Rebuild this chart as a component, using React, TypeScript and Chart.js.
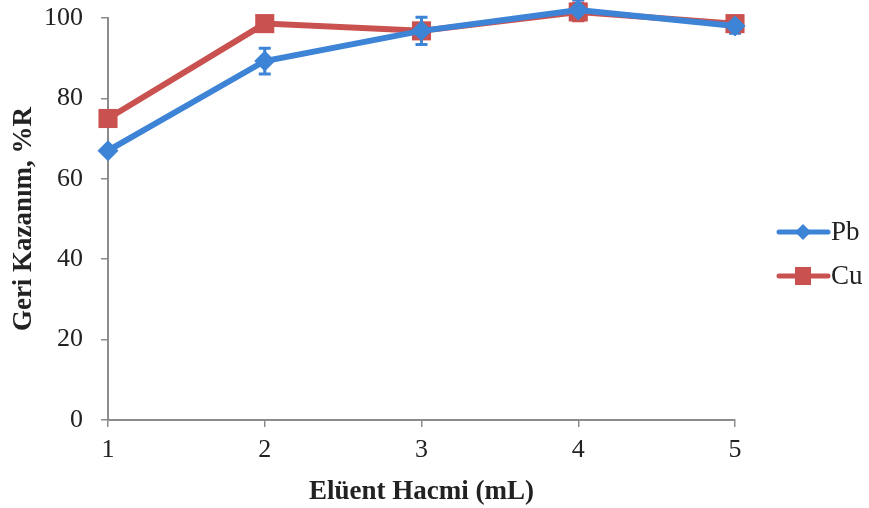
import React, { useEffect, useRef } from "react";
import { Chart, registerables } from "chart.js";

Chart.register(...registerables);

const volumes = [1, 2, 3, 4, 5];
const pbValues = [67, 89.3, 96.8, 102, 98];
const pbErrors = [0, 3.2, 3.4, 2.5, 1.8];
const cuValues = [75, 98.6, 96.8, 101.5, 98.6];
const cuErrors = [0, 0.6, 0.8, 2.2, 0.8];
const yTicks = [0, 20, 40, 60, 80, 100];

const PB_COLOR = "#3d83d6";
const CU_COLOR = "#c9514f";
const AXIS_COLOR = "#8c8c8c";
const FONT = "'Liberation Serif', 'Times New Roman', serif";

const errorBarPlugin = {
  id: "errorBars",
  beforeDatasetsDraw(chart: any) {
    const ctx = chart.ctx;
    const errs = [pbErrors, cuErrors];
    const y = chart.scales.y;
    chart.data.datasets.forEach((ds: any, di: number) => {
      const meta = chart.getDatasetMeta(di);
      ctx.save();
      ctx.strokeStyle = ds.borderColor;
      ctx.lineWidth = 3;
      meta.data.forEach((pt: any, i: number) => {
        const e = errs[di][i];
        if (!e) return;
        const v = ds.data[i].y;
        const top = y.getPixelForValue(v + e);
        const bot = y.getPixelForValue(v - e);
        ctx.beginPath();
        ctx.moveTo(pt.x, top);
        ctx.lineTo(pt.x, bot);
        ctx.moveTo(pt.x - 6, top);
        ctx.lineTo(pt.x + 6, top);
        ctx.moveTo(pt.x - 6, bot);
        ctx.lineTo(pt.x + 6, bot);
        ctx.stroke();
      });
      ctx.restore();
    });
  },
};

const legendPlugin = {
  id: "customLegend",
  afterDraw(chart: any) {
    const ctx = chart.ctx;
    const items = [
      { label: "Pb", color: PB_COLOR, style: "diamond", y: 232 },
      { label: "Cu", color: CU_COLOR, style: "square", y: 276 },
    ];
    items.forEach((it) => {
      ctx.save();
      ctx.strokeStyle = it.color;
      ctx.fillStyle = it.color;
      ctx.lineWidth = 5;
      ctx.lineCap = "round";
      ctx.beginPath();
      ctx.moveTo(779, it.y);
      ctx.lineTo(828, it.y);
      ctx.stroke();
      const cx = 803;
      if (it.style === "diamond") {
        ctx.beginPath();
        ctx.moveTo(cx, it.y - 8);
        ctx.lineTo(cx + 8, it.y);
        ctx.lineTo(cx, it.y + 8);
        ctx.lineTo(cx - 8, it.y);
        ctx.closePath();
        ctx.fill();
      } else {
        ctx.fillRect(cx - 8, it.y - 9, 16, 18);
      }
      ctx.fillStyle = "#222";
      ctx.font = `27px ${FONT}`;
      ctx.textBaseline = "middle";
      ctx.textAlign = "left";
      ctx.fillText(it.label, 831, it.y + 1);
      ctx.restore();
    });
  },
};

export default function App() {
  const ref = useRef<HTMLCanvasElement>(null);
  useEffect(() => {
    document.body.style.margin = "0";
    const chart = new Chart(ref.current!, {
      type: "line",
      data: {
        datasets: [
          {
            label: "Pb",
            data: volumes.map((x, i) => ({ x, y: pbValues[i] })),
            borderColor: PB_COLOR,
            backgroundColor: PB_COLOR,
            borderWidth: 6,
            pointStyle: "rectRot",
            pointRadius: 10.5,
            pointBorderWidth: 0,
            clip: false,
          },
          {
            label: "Cu",
            data: volumes.map((x, i) => ({ x, y: cuValues[i] })),
            borderColor: CU_COLOR,
            backgroundColor: CU_COLOR,
            borderWidth: 6,
            pointStyle: "rect",
            pointRadius: 13.5,
            pointBorderWidth: 0,
            clip: false,
          },
        ],
      },
      options: {
        animation: false,
        responsive: false,
        maintainAspectRatio: false,
        layout: { padding: { top: 18, right: 134, left: 0, bottom: 0 } },
        plugins: { legend: { display: false }, tooltip: { enabled: false } },
        scales: {
          x: {
            type: "linear",
            min: 1,
            max: 5,
            afterFit: (s: any) => {
              s.height = 88;
              s.paddingLeft = 0;
              s.paddingRight = 0;
            },
            afterBuildTicks: (s: any) => {
              s.ticks = volumes.map((v) => ({ value: v }));
            },
            grid: { drawOnChartArea: false, drawTicks: true, tickLength: 7, color: AXIS_COLOR, lineWidth: 1.5 },
            border: { color: AXIS_COLOR, width: 2 },
            ticks: { color: "#222", font: { family: FONT, size: 26 }, padding: 8 },
            title: {
              display: true,
              text: "Elüent Hacmi (mL)",
              color: "#222",
              font: { family: FONT, size: 27, weight: "bold" },
              padding: { top: 2, bottom: 0 },
            },
          },
          y: {
            min: 0,
            max: 100,
            afterFit: (s: any) => {
              s.width = 108;
              s.paddingTop = 0;
              s.paddingBottom = 0;
            },
            afterBuildTicks: (s: any) => {
              s.ticks = yTicks.map((v) => ({ value: v }));
            },
            grid: { drawOnChartArea: false, drawTicks: true, tickLength: 7, color: AXIS_COLOR, lineWidth: 1.5 },
            border: { color: AXIS_COLOR, width: 2 },
            ticks: { color: "#222", font: { family: FONT, size: 26 }, padding: 18 },
            title: {
              display: true,
              text: "Geri Kazanım, %R",
              color: "#222",
              font: { family: FONT, size: 27, weight: "bold" },
              padding: { top: 8, bottom: 4 },
            },
          },
        },
      },
      plugins: [errorBarPlugin, legendPlugin],
    } as any);
    return () => chart.destroy();
  }, []);
  return (
    <div style={{ position: "relative", width: 869, height: 508, background: "#fff" }}>
      <canvas ref={ref} width={869} height={508} style={{ display: "block" }} />
    </div>
  );
}
